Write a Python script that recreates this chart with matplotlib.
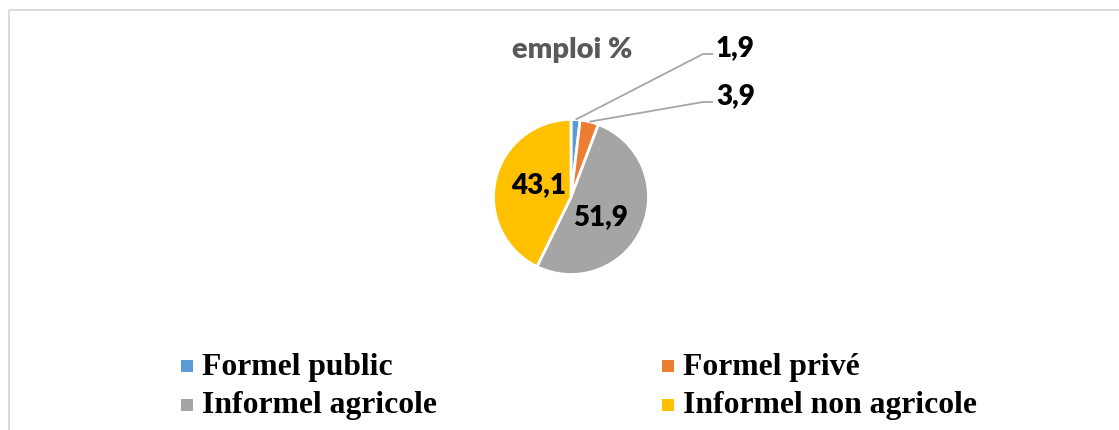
import numpy as np
import matplotlib
matplotlib.use("Agg")
import matplotlib.pyplot as plt
from matplotlib.patches import Rectangle

# Répartition de l'emploi (%)
categories = ["Formel public", "Formel privé", "Informel agricole", "Informel non agricole"]
values = [1.9, 3.9, 51.9, 43.1]
colors = ["#5B9BD5", "#ED7D31", "#A5A5A5", "#FFC000"]
title = "emploi %"

W, H = 1119, 430
fig = plt.figure(figsize=(W / 100, H / 100), dpi=100)
ax = fig.add_axes([0, 0, 1, 1])
ax.set_xlim(0, W)
ax.set_ylim(0, H)
ax.set_aspect("equal")
ax.axis("off")


def py(y):
    """Convert a top-down pixel row to the axes' y coordinate."""
    return H - y


# Chart area border (left and top edges)
ax.plot([9, 9, W], [0, py(9.5), py(9.5)], color="#D9D9D9", lw=1.3,
        solid_joinstyle="miter", solid_capstyle="butt")

cx, cy, r = 571, py(197), 77.5
wedges, _ = ax.pie(values, colors=colors, startangle=90, counterclock=False,
                   center=(cx, cy), radius=r,
                   wedgeprops=dict(edgecolor="white", linewidth=2.0))
ax.set_xlim(0, W)
ax.set_ylim(0, H)

value_font = dict(family=["Lato", "DejaVu Sans"], fontweight="heavy",
                  fontsize=20, color="black")


def fmt(v):
    return f"{v:.1f}".replace(".", ",")


# Leader-line labels for the two thin slices, inside labels for the others
outside_y = [py(48), py(96)]
inside_nudge = {2: (-6, -8), 3: (5, 0)}
for i, (w, v) in enumerate(zip(wedges, values)):
    mid = np.deg2rad((w.theta1 + w.theta2) / 2)
    if i < 2:
        x0 = cx + r * np.cos(mid)
        y0 = cy + r * np.sin(mid)
        ly = outside_y[i]
        ax.plot([x0, 703, 713], [y0, ly - 6, ly - 6], color="#A6A6A6", lw=1.3,
                solid_capstyle="butt")
        ax.text(716, ly, fmt(v), ha="left", va="center", **value_font)
    else:
        d = 0.5 * r
        nx, ny = inside_nudge[i]
        ax.text(cx + d * np.cos(mid) + nx, cy + d * np.sin(mid) + 3 + ny, fmt(v),
                ha="center", va="center", **value_font)

ax.text(572, py(50), title, ha="center", va="center", color="#595959",
        family=["Lato", "DejaVu Sans"], fontweight="heavy", fontsize=21)

# Legend, two columns
col_marker_x = [181, 662]
col_text_x = [202, 683]
row_center_y = [py(366), py(405)]
row_base_y = [py(375), py(413)]
for k, (name, col) in enumerate(zip(categories, colors)):
    row, c = divmod(k, 2)
    ax.add_patch(Rectangle((col_marker_x[c], row_center_y[row] - 6), 12, 12,
                           facecolor=col, edgecolor="none"))
    ax.text(col_text_x[c], row_base_y[row], name, ha="left", va="baseline",
            family=["Liberation Serif", "DejaVu Serif"], fontweight="bold",
            fontsize=22.8, color="black")

fig.savefig("out.png", dpi=100, facecolor="white")
